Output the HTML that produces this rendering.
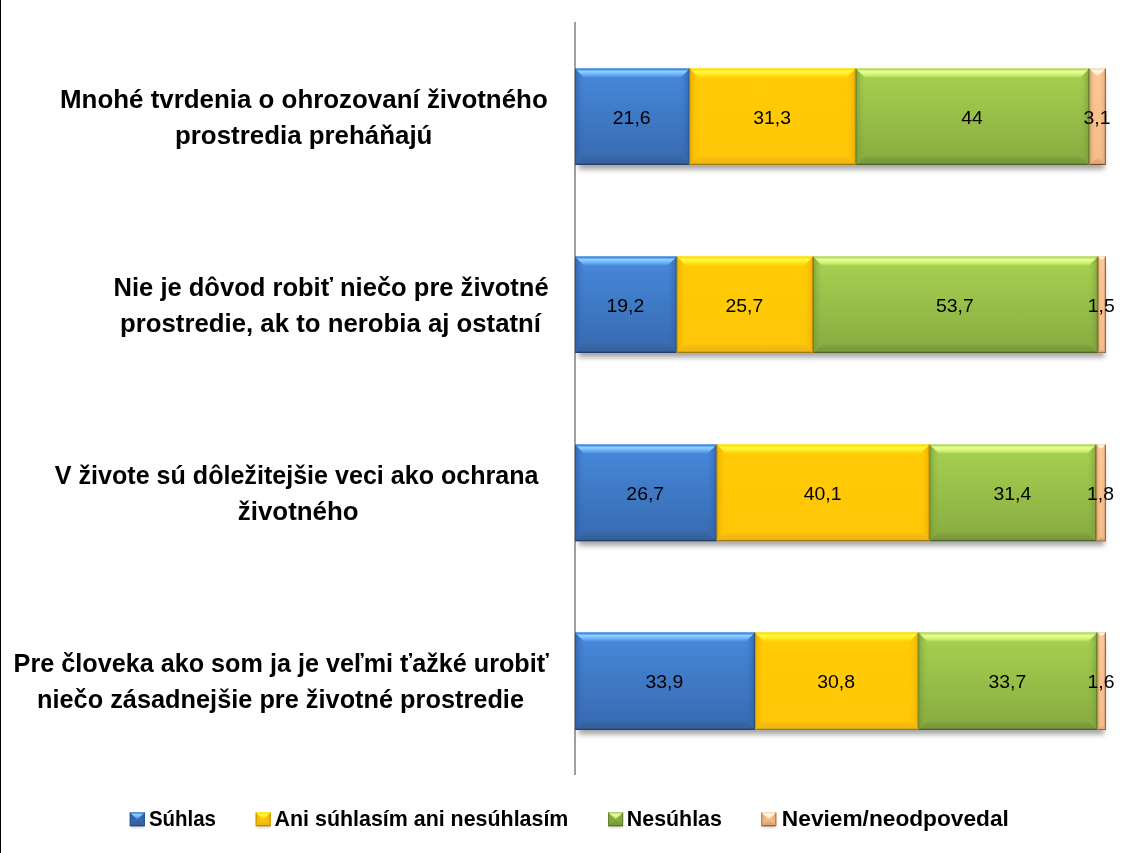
<!DOCTYPE html>
<html lang="sk"><head><meta charset="utf-8"><title>Graf</title>
<style>html,body{margin:0;padding:0;background:#fff}body{width:1128px;height:853px;overflow:hidden}svg{display:block}text{font-family:"Liberation Sans",sans-serif;fill:#000}.l{font-weight:bold;font-size:26px}.k{font-weight:bold;font-size:22.6px}.d{font-size:19px}</style></head><body>
<svg width="1128" height="853" viewBox="0 0 1128 853">
<defs>
<filter id="sh2" x="-30%" y="-30%" width="160%" height="160%"><feGaussianBlur stdDeviation="1"/></filter>
<filter id="sh" x="-5%" y="-50%" width="110%" height="200%"><feGaussianBlur stdDeviation="2.6"/></filter>
<linearGradient id="fb" x1="0" y1="0" x2="0" y2="1"><stop offset="0" stop-color="#4585d6"/><stop offset="0.12" stop-color="#4585d6"/><stop offset="0.95" stop-color="#386bb1"/><stop offset="1" stop-color="#386bb1"/></linearGradient>
<linearGradient id="tb" x1="0" y1="0" x2="0" y2="1"><stop offset="0" stop-color="#3f86e8"/><stop offset="0.09" stop-color="#3f86e8"/><stop offset="0.33" stop-color="#90d6ff"/><stop offset="0.72" stop-color="#62a6f6"/><stop offset="1" stop-color="#4585d6"/></linearGradient>
<linearGradient id="ub" x1="0" y1="0" x2="0" y2="1"><stop offset="0" stop-color="#386bb1"/><stop offset="0.5" stop-color="#37619a"/><stop offset="0.8" stop-color="#37619a"/><stop offset="0.93" stop-color="#1f3f70"/><stop offset="1" stop-color="#1f3f70"/></linearGradient>
<linearGradient id="lb" x1="0" y1="0" x2="1" y2="0"><stop offset="0" stop-color="#2b5fa8" stop-opacity="0.9"/><stop offset="0.22" stop-color="#2b5fa8" stop-opacity="0.5"/><stop offset="0.6" stop-color="#2b5fa8" stop-opacity="0.15"/><stop offset="1" stop-color="#2b5fa8" stop-opacity="0"/></linearGradient>
<linearGradient id="rb" x1="1" y1="0" x2="0" y2="0"><stop offset="0" stop-color="#2b5fa8" stop-opacity="0.9"/><stop offset="0.22" stop-color="#2b5fa8" stop-opacity="0.5"/><stop offset="0.6" stop-color="#2b5fa8" stop-opacity="0.15"/><stop offset="1" stop-color="#2b5fa8" stop-opacity="0"/></linearGradient>
<linearGradient id="fy" x1="0" y1="0" x2="0" y2="1"><stop offset="0" stop-color="#ffcb05"/><stop offset="0.12" stop-color="#ffcb05"/><stop offset="0.95" stop-color="#ffc708"/><stop offset="1" stop-color="#ffc708"/></linearGradient>
<linearGradient id="ty" x1="0" y1="0" x2="0" y2="1"><stop offset="0" stop-color="#ffe000"/><stop offset="0.09" stop-color="#ffe000"/><stop offset="0.33" stop-color="#ffff40"/><stop offset="0.72" stop-color="#ffe21c"/><stop offset="1" stop-color="#ffcb05"/></linearGradient>
<linearGradient id="uy" x1="0" y1="0" x2="0" y2="1"><stop offset="0" stop-color="#ffc708"/><stop offset="0.5" stop-color="#f0b812"/><stop offset="0.8" stop-color="#f0b812"/><stop offset="0.93" stop-color="#a67a0c"/><stop offset="1" stop-color="#a67a0c"/></linearGradient>
<linearGradient id="ly" x1="0" y1="0" x2="1" y2="0"><stop offset="0" stop-color="#e8a900" stop-opacity="0.9"/><stop offset="0.22" stop-color="#e8a900" stop-opacity="0.5"/><stop offset="0.6" stop-color="#e8a900" stop-opacity="0.15"/><stop offset="1" stop-color="#e8a900" stop-opacity="0"/></linearGradient>
<linearGradient id="ry" x1="1" y1="0" x2="0" y2="0"><stop offset="0" stop-color="#e8a900" stop-opacity="0.9"/><stop offset="0.22" stop-color="#e8a900" stop-opacity="0.5"/><stop offset="0.6" stop-color="#e8a900" stop-opacity="0.15"/><stop offset="1" stop-color="#e8a900" stop-opacity="0"/></linearGradient>
<linearGradient id="fg" x1="0" y1="0" x2="0" y2="1"><stop offset="0" stop-color="#a4cd4f"/><stop offset="0.12" stop-color="#a4cd4f"/><stop offset="0.95" stop-color="#89ad41"/><stop offset="1" stop-color="#89ad41"/></linearGradient>
<linearGradient id="tg" x1="0" y1="0" x2="0" y2="1"><stop offset="0" stop-color="#b0de5c"/><stop offset="0.09" stop-color="#b0de5c"/><stop offset="0.33" stop-color="#f0ff98"/><stop offset="0.72" stop-color="#c6f06c"/><stop offset="1" stop-color="#a4cd4f"/></linearGradient>
<linearGradient id="ug" x1="0" y1="0" x2="0" y2="1"><stop offset="0" stop-color="#89ad41"/><stop offset="0.5" stop-color="#7a9a3c"/><stop offset="0.8" stop-color="#7a9a3c"/><stop offset="0.93" stop-color="#4f642a"/><stop offset="1" stop-color="#4f642a"/></linearGradient>
<linearGradient id="lg" x1="0" y1="0" x2="1" y2="0"><stop offset="0" stop-color="#769a38" stop-opacity="0.9"/><stop offset="0.22" stop-color="#769a38" stop-opacity="0.5"/><stop offset="0.6" stop-color="#769a38" stop-opacity="0.15"/><stop offset="1" stop-color="#769a38" stop-opacity="0"/></linearGradient>
<linearGradient id="rg" x1="1" y1="0" x2="0" y2="0"><stop offset="0" stop-color="#769a38" stop-opacity="0.9"/><stop offset="0.22" stop-color="#769a38" stop-opacity="0.5"/><stop offset="0.6" stop-color="#769a38" stop-opacity="0.15"/><stop offset="1" stop-color="#769a38" stop-opacity="0"/></linearGradient>
<linearGradient id="fo" x1="0" y1="0" x2="0" y2="1"><stop offset="0" stop-color="#fdc896"/><stop offset="0.12" stop-color="#fdc896"/><stop offset="0.95" stop-color="#f6be8a"/><stop offset="1" stop-color="#f6be8a"/></linearGradient>
<linearGradient id="to" x1="0" y1="0" x2="0" y2="1"><stop offset="0" stop-color="#ffd9b8"/><stop offset="0.09" stop-color="#ffd9b8"/><stop offset="0.33" stop-color="#fffff0"/><stop offset="0.72" stop-color="#ffe6c4"/><stop offset="1" stop-color="#fdc896"/></linearGradient>
<linearGradient id="uo" x1="0" y1="0" x2="0" y2="1"><stop offset="0" stop-color="#f6be8a"/><stop offset="0.5" stop-color="#e0a878"/><stop offset="0.8" stop-color="#e0a878"/><stop offset="0.93" stop-color="#7a4a22"/><stop offset="1" stop-color="#7a4a22"/></linearGradient>
<linearGradient id="lo" x1="0" y1="0" x2="1" y2="0"><stop offset="0" stop-color="#c98d5a" stop-opacity="0.6"/><stop offset="0.22" stop-color="#c98d5a" stop-opacity="0.3"/><stop offset="0.6" stop-color="#c98d5a" stop-opacity="0.06"/><stop offset="1" stop-color="#c98d5a" stop-opacity="0"/></linearGradient>
<linearGradient id="ro" x1="1" y1="0" x2="0" y2="0"><stop offset="0" stop-color="#c98d5a" stop-opacity="0.6"/><stop offset="0.22" stop-color="#c98d5a" stop-opacity="0.3"/><stop offset="0.6" stop-color="#c98d5a" stop-opacity="0.06"/><stop offset="1" stop-color="#c98d5a" stop-opacity="0"/></linearGradient>
</defs>
<rect x="0" y="0" width="1128" height="853" fill="#fff"/>
<rect x="0" y="0" width="1" height="853" fill="#000"/>
<rect x="574" y="22" width="2" height="753" fill="#a0a0a0"/>
<rect x="578.5" y="76.5" width="525.85" height="93" fill="#000" fill-opacity="0.34" filter="url(#sh)"/>
<rect x="575" y="68.5" width="114.66" height="96.5" fill="url(#fb)"/>
<polygon points="575,68.5 584.5,78 584.5,155.5 575,165" fill="url(#lb)"/>
<polygon points="689.66,68.5 680.16,78 680.16,155.5 689.66,165" fill="url(#rb)"/>
<polygon points="575,68.5 689.66,68.5 680.16,78 584.5,78" fill="url(#tb)"/>
<polygon points="575,165 689.66,165 680.16,155.5 584.5,155.5" fill="url(#ub)"/>
<rect x="575" y="68.5" width="0.8" height="96.5" fill="#1f3f70" fill-opacity="0.5"/><rect x="688.66" y="68.5" width="1" height="96.5" fill="#1f3f70" fill-opacity="0.8"/>
<rect x="689.66" y="68.5" width="166.16" height="96.5" fill="url(#fy)"/>
<polygon points="689.66,68.5 699.16,78 699.16,155.5 689.66,165" fill="url(#ly)"/>
<polygon points="855.82,68.5 846.32,78 846.32,155.5 855.82,165" fill="url(#ry)"/>
<polygon points="689.66,68.5 855.82,68.5 846.32,78 699.16,78" fill="url(#ty)"/>
<polygon points="689.66,165 855.82,165 846.32,155.5 699.16,155.5" fill="url(#uy)"/>
<rect x="689.66" y="68.5" width="0.8" height="96.5" fill="#a67a0c" fill-opacity="0.5"/><rect x="854.82" y="68.5" width="1" height="96.5" fill="#a67a0c" fill-opacity="0.8"/>
<rect x="855.82" y="68.5" width="233.57" height="96.5" fill="url(#fg)"/>
<polygon points="855.82,68.5 865.32,78 865.32,155.5 855.82,165" fill="url(#lg)"/>
<polygon points="1089.39,68.5 1079.89,78 1079.89,155.5 1089.39,165" fill="url(#rg)"/>
<polygon points="855.82,68.5 1089.39,68.5 1079.89,78 865.32,78" fill="url(#tg)"/>
<polygon points="855.82,165 1089.39,165 1079.89,155.5 865.32,155.5" fill="url(#ug)"/>
<rect x="855.82" y="68.5" width="0.8" height="96.5" fill="#4f642a" fill-opacity="0.5"/><rect x="1088.39" y="68.5" width="1" height="96.5" fill="#4f642a" fill-opacity="0.8"/>
<rect x="1089.39" y="68.5" width="16.46" height="96.5" fill="url(#fo)"/>
<polygon points="1089.39,68.5 1097.62,76.73 1097.62,156.77 1089.39,165" fill="url(#lo)"/>
<polygon points="1105.85,68.5 1097.62,76.73 1097.62,156.77 1105.85,165" fill="url(#ro)"/>
<polygon points="1089.39,68.5 1105.85,68.5 1097.62,76.73 1097.62,76.73" fill="url(#to)"/>
<polygon points="1089.39,165 1105.85,165 1097.62,156.77 1097.62,156.77" fill="url(#uo)"/>
<rect x="1089.39" y="68.5" width="0.8" height="96.5" fill="#7a4a22" fill-opacity="0.5"/><rect x="1104.85" y="68.5" width="1" height="96.5" fill="#7a4a22" fill-opacity="0.8"/>
<rect x="578.5" y="264.5" width="525.85" height="93" fill="#000" fill-opacity="0.34" filter="url(#sh)"/>
<rect x="575" y="256.5" width="101.82" height="96.5" fill="url(#fb)"/>
<polygon points="575,256.5 584.5,266 584.5,343.5 575,353" fill="url(#lb)"/>
<polygon points="676.82,256.5 667.32,266 667.32,343.5 676.82,353" fill="url(#rb)"/>
<polygon points="575,256.5 676.82,256.5 667.32,266 584.5,266" fill="url(#tb)"/>
<polygon points="575,353 676.82,353 667.32,343.5 584.5,343.5" fill="url(#ub)"/>
<rect x="575" y="256.5" width="0.8" height="96.5" fill="#1f3f70" fill-opacity="0.5"/><rect x="675.82" y="256.5" width="1" height="96.5" fill="#1f3f70" fill-opacity="0.8"/>
<rect x="676.82" y="256.5" width="136.29" height="96.5" fill="url(#fy)"/>
<polygon points="676.82,256.5 686.32,266 686.32,343.5 676.82,353" fill="url(#ly)"/>
<polygon points="813.11,256.5 803.61,266 803.61,343.5 813.11,353" fill="url(#ry)"/>
<polygon points="676.82,256.5 813.11,256.5 803.61,266 686.32,266" fill="url(#ty)"/>
<polygon points="676.82,353 813.11,353 803.61,343.5 686.32,343.5" fill="url(#uy)"/>
<rect x="676.82" y="256.5" width="0.8" height="96.5" fill="#a67a0c" fill-opacity="0.5"/><rect x="812.11" y="256.5" width="1" height="96.5" fill="#a67a0c" fill-opacity="0.8"/>
<rect x="813.11" y="256.5" width="284.78" height="96.5" fill="url(#fg)"/>
<polygon points="813.11,256.5 822.61,266 822.61,343.5 813.11,353" fill="url(#lg)"/>
<polygon points="1097.9,256.5 1088.4,266 1088.4,343.5 1097.9,353" fill="url(#rg)"/>
<polygon points="813.11,256.5 1097.9,256.5 1088.4,266 822.61,266" fill="url(#tg)"/>
<polygon points="813.11,353 1097.9,353 1088.4,343.5 822.61,343.5" fill="url(#ug)"/>
<rect x="813.11" y="256.5" width="0.8" height="96.5" fill="#4f642a" fill-opacity="0.5"/><rect x="1096.9" y="256.5" width="1" height="96.5" fill="#4f642a" fill-opacity="0.8"/>
<rect x="1097.9" y="256.5" width="7.95" height="96.5" fill="url(#fo)"/>
<polygon points="1097.9,256.5 1101.87,260.48 1101.87,349.02 1097.9,353" fill="url(#lo)"/>
<polygon points="1105.85,256.5 1101.87,260.48 1101.87,349.02 1105.85,353" fill="url(#ro)"/>
<polygon points="1097.9,256.5 1105.85,256.5 1101.87,260.48 1101.87,260.48" fill="url(#to)"/>
<polygon points="1097.9,353 1105.85,353 1101.87,349.02 1101.87,349.02" fill="url(#uo)"/>
<rect x="1097.9" y="256.5" width="0.8" height="96.5" fill="#7a4a22" fill-opacity="0.5"/><rect x="1104.85" y="256.5" width="1" height="96.5" fill="#7a4a22" fill-opacity="0.8"/>
<rect x="578.5" y="452.5" width="525.85" height="93.2" fill="#000" fill-opacity="0.34" filter="url(#sh)"/>
<rect x="575" y="444.5" width="141.74" height="96.7" fill="url(#fb)"/>
<polygon points="575,444.5 584.5,454 584.5,531.7 575,541.2" fill="url(#lb)"/>
<polygon points="716.74,444.5 707.24,454 707.24,531.7 716.74,541.2" fill="url(#rb)"/>
<polygon points="575,444.5 716.74,444.5 707.24,454 584.5,454" fill="url(#tb)"/>
<polygon points="575,541.2 716.74,541.2 707.24,531.7 584.5,531.7" fill="url(#ub)"/>
<rect x="575" y="444.5" width="0.8" height="96.7" fill="#1f3f70" fill-opacity="0.5"/><rect x="715.74" y="444.5" width="1" height="96.7" fill="#1f3f70" fill-opacity="0.8"/>
<rect x="716.74" y="444.5" width="212.87" height="96.7" fill="url(#fy)"/>
<polygon points="716.74,444.5 726.24,454 726.24,531.7 716.74,541.2" fill="url(#ly)"/>
<polygon points="929.61,444.5 920.11,454 920.11,531.7 929.61,541.2" fill="url(#ry)"/>
<polygon points="716.74,444.5 929.61,444.5 920.11,454 726.24,454" fill="url(#ty)"/>
<polygon points="716.74,541.2 929.61,541.2 920.11,531.7 726.24,531.7" fill="url(#uy)"/>
<rect x="716.74" y="444.5" width="0.8" height="96.7" fill="#a67a0c" fill-opacity="0.5"/><rect x="928.61" y="444.5" width="1" height="96.7" fill="#a67a0c" fill-opacity="0.8"/>
<rect x="929.61" y="444.5" width="166.69" height="96.7" fill="url(#fg)"/>
<polygon points="929.61,444.5 939.11,454 939.11,531.7 929.61,541.2" fill="url(#lg)"/>
<polygon points="1096.29,444.5 1086.79,454 1086.79,531.7 1096.29,541.2" fill="url(#rg)"/>
<polygon points="929.61,444.5 1096.29,444.5 1086.79,454 939.11,454" fill="url(#tg)"/>
<polygon points="929.61,541.2 1096.29,541.2 1086.79,531.7 939.11,531.7" fill="url(#ug)"/>
<rect x="929.61" y="444.5" width="0.8" height="96.7" fill="#4f642a" fill-opacity="0.5"/><rect x="1095.29" y="444.5" width="1" height="96.7" fill="#4f642a" fill-opacity="0.8"/>
<rect x="1096.29" y="444.5" width="9.56" height="96.7" fill="url(#fo)"/>
<polygon points="1096.29,444.5 1101.07,449.28 1101.07,536.42 1096.29,541.2" fill="url(#lo)"/>
<polygon points="1105.85,444.5 1101.07,449.28 1101.07,536.42 1105.85,541.2" fill="url(#ro)"/>
<polygon points="1096.29,444.5 1105.85,444.5 1101.07,449.28 1101.07,449.28" fill="url(#to)"/>
<polygon points="1096.29,541.2 1105.85,541.2 1101.07,536.42 1101.07,536.42" fill="url(#uo)"/>
<rect x="1096.29" y="444.5" width="0.8" height="96.7" fill="#7a4a22" fill-opacity="0.5"/><rect x="1104.85" y="444.5" width="1" height="96.7" fill="#7a4a22" fill-opacity="0.8"/>
<rect x="578.5" y="640.5" width="525.85" height="94" fill="#000" fill-opacity="0.34" filter="url(#sh)"/>
<rect x="575" y="632.5" width="179.96" height="97.5" fill="url(#fb)"/>
<polygon points="575,632.5 584.5,642 584.5,720.5 575,730" fill="url(#lb)"/>
<polygon points="754.96,632.5 745.46,642 745.46,720.5 754.96,730" fill="url(#rb)"/>
<polygon points="575,632.5 754.96,632.5 745.46,642 584.5,642" fill="url(#tb)"/>
<polygon points="575,730 754.96,730 745.46,720.5 584.5,720.5" fill="url(#ub)"/>
<rect x="575" y="632.5" width="0.8" height="97.5" fill="#1f3f70" fill-opacity="0.5"/><rect x="753.96" y="632.5" width="1" height="97.5" fill="#1f3f70" fill-opacity="0.8"/>
<rect x="754.96" y="632.5" width="163.5" height="97.5" fill="url(#fy)"/>
<polygon points="754.96,632.5 764.46,642 764.46,720.5 754.96,730" fill="url(#ly)"/>
<polygon points="918.46,632.5 908.96,642 908.96,720.5 918.46,730" fill="url(#ry)"/>
<polygon points="754.96,632.5 918.46,632.5 908.96,642 764.46,642" fill="url(#ty)"/>
<polygon points="754.96,730 918.46,730 908.96,720.5 764.46,720.5" fill="url(#uy)"/>
<rect x="754.96" y="632.5" width="0.8" height="97.5" fill="#a67a0c" fill-opacity="0.5"/><rect x="917.46" y="632.5" width="1" height="97.5" fill="#a67a0c" fill-opacity="0.8"/>
<rect x="918.46" y="632.5" width="178.9" height="97.5" fill="url(#fg)"/>
<polygon points="918.46,632.5 927.96,642 927.96,720.5 918.46,730" fill="url(#lg)"/>
<polygon points="1097.36,632.5 1087.86,642 1087.86,720.5 1097.36,730" fill="url(#rg)"/>
<polygon points="918.46,632.5 1097.36,632.5 1087.86,642 927.96,642" fill="url(#tg)"/>
<polygon points="918.46,730 1097.36,730 1087.86,720.5 927.96,720.5" fill="url(#ug)"/>
<rect x="918.46" y="632.5" width="0.8" height="97.5" fill="#4f642a" fill-opacity="0.5"/><rect x="1096.36" y="632.5" width="1" height="97.5" fill="#4f642a" fill-opacity="0.8"/>
<rect x="1097.36" y="632.5" width="8.49" height="97.5" fill="url(#fo)"/>
<polygon points="1097.36,632.5 1101.6,636.75 1101.6,725.75 1097.36,730" fill="url(#lo)"/>
<polygon points="1105.85,632.5 1101.6,636.75 1101.6,725.75 1105.85,730" fill="url(#ro)"/>
<polygon points="1097.36,632.5 1105.85,632.5 1101.6,636.75 1101.6,636.75" fill="url(#to)"/>
<polygon points="1097.36,730 1105.85,730 1101.6,725.75 1101.6,725.75" fill="url(#uo)"/>
<rect x="1097.36" y="632.5" width="0.8" height="97.5" fill="#7a4a22" fill-opacity="0.5"/><rect x="1104.85" y="632.5" width="1" height="97.5" fill="#7a4a22" fill-opacity="0.8"/>
<text id="d0" class="d" x="631.73" y="123.8" textLength="37.78" lengthAdjust="spacingAndGlyphs" text-anchor="middle">21,6</text>
<text id="d1" class="d" x="772.14" y="123.8" textLength="37.78" lengthAdjust="spacingAndGlyphs" text-anchor="middle">31,3</text>
<text id="d2" class="d" x="972.01" y="123.8" textLength="21.63" lengthAdjust="spacingAndGlyphs" text-anchor="middle">44</text>
<text id="d3" class="d" x="1097.02" y="123.8" textLength="26.96" lengthAdjust="spacingAndGlyphs" text-anchor="middle">3,1</text>
<text id="d4" class="d" x="625.31" y="311.8" textLength="37.78" lengthAdjust="spacingAndGlyphs" text-anchor="middle">19,2</text>
<text id="d5" class="d" x="744.37" y="311.8" textLength="37.78" lengthAdjust="spacingAndGlyphs" text-anchor="middle">25,7</text>
<text id="d6" class="d" x="954.9" y="311.8" textLength="37.78" lengthAdjust="spacingAndGlyphs" text-anchor="middle">53,7</text>
<text id="d7" class="d" x="1101.27" y="311.8" textLength="26.96" lengthAdjust="spacingAndGlyphs" text-anchor="middle">1,5</text>
<text id="d8" class="d" x="645.27" y="499.8" textLength="37.78" lengthAdjust="spacingAndGlyphs" text-anchor="middle">26,7</text>
<text id="d9" class="d" x="822.57" y="499.8" textLength="37.78" lengthAdjust="spacingAndGlyphs" text-anchor="middle">40,1</text>
<text id="d10" class="d" x="1012.35" y="499.8" textLength="37.78" lengthAdjust="spacingAndGlyphs" text-anchor="middle">31,4</text>
<text id="d11" class="d" x="1100.47" y="499.8" textLength="26.96" lengthAdjust="spacingAndGlyphs" text-anchor="middle">1,8</text>
<text id="d12" class="d" x="664.38" y="687.8" textLength="37.78" lengthAdjust="spacingAndGlyphs" text-anchor="middle">33,9</text>
<text id="d13" class="d" x="836.11" y="687.8" textLength="37.78" lengthAdjust="spacingAndGlyphs" text-anchor="middle">30,8</text>
<text id="d14" class="d" x="1007.31" y="687.8" textLength="37.78" lengthAdjust="spacingAndGlyphs" text-anchor="middle">33,7</text>
<text id="d15" class="d" x="1101" y="687.8" textLength="26.96" lengthAdjust="spacingAndGlyphs" text-anchor="middle">1,6</text>
<text id="c0" class="l" x="60.02" y="107.9" textLength="487.7" lengthAdjust="spacingAndGlyphs">Mnohé tvrdenia o ohrozovaní životného</text>
<text id="c1" class="l" x="174.99" y="143.8" textLength="257.41" lengthAdjust="spacingAndGlyphs">prostredia preháňajú</text>
<text id="c2" class="l" x="113.56" y="295.9" textLength="435.04" lengthAdjust="spacingAndGlyphs">Nie je dôvod robiť niečo pre životné</text>
<text id="c3" class="l" x="120" y="331.8" textLength="421.02" lengthAdjust="spacingAndGlyphs">prostredie, ak to nerobia aj ostatní</text>
<text id="c4" class="l" x="54.81" y="483.9" textLength="483.78" lengthAdjust="spacingAndGlyphs">V živote sú dôležitejšie veci ako ochrana</text>
<text id="c5" class="l" x="237.85" y="519.8" textLength="120.81" lengthAdjust="spacingAndGlyphs">životného</text>
<text id="c6" class="l" x="13.6" y="671.9" textLength="535.24" lengthAdjust="spacingAndGlyphs">Pre človeka ako som ja je veľmi ťažké urobiť</text>
<text id="c7" class="l" x="37" y="707.8" textLength="486.98" lengthAdjust="spacingAndGlyphs">niečo zásadnejšie pre životné prostredie</text>
<rect x="130.8" y="814.9" width="13" height="12.8" fill="#000" fill-opacity="0.18" filter="url(#sh2)"/>
<rect x="129.8" y="812.4" width="15" height="13.8" fill="#386bb1"/>
<polygon points="129.8,812.4 137.3,819.3 129.8,826.2" fill="url(#lb)"/>
<polygon points="144.8,812.4 137.3,819.3 144.8,826.2" fill="url(#rb)"/>
<polygon points="129.8,826.2 137.3,819.3 144.8,826.2" fill="url(#ub)"/>
<polygon points="129.8,812.4 144.8,812.4 137.3,819.3" fill="url(#tb)"/>
<rect x="129.8" y="812.4" width="0.9" height="13.8" fill="#1f3f70" fill-opacity="0.55"/><rect x="143.9" y="812.4" width="0.9" height="13.8" fill="#1f3f70" fill-opacity="0.6"/>
<text id="k0" class="k" x="148.9" y="825.6" textLength="67.12" lengthAdjust="spacingAndGlyphs">Súhlas</text>
<rect x="256.7" y="814.9" width="13" height="12.8" fill="#000" fill-opacity="0.18" filter="url(#sh2)"/>
<rect x="255.7" y="812.4" width="15" height="13.8" fill="#ffc708"/>
<polygon points="255.7,812.4 263.2,819.3 255.7,826.2" fill="url(#ly)"/>
<polygon points="270.7,812.4 263.2,819.3 270.7,826.2" fill="url(#ry)"/>
<polygon points="255.7,826.2 263.2,819.3 270.7,826.2" fill="url(#uy)"/>
<polygon points="255.7,812.4 270.7,812.4 263.2,819.3" fill="url(#ty)"/>
<rect x="255.7" y="812.4" width="0.9" height="13.8" fill="#a67a0c" fill-opacity="0.55"/><rect x="269.8" y="812.4" width="0.9" height="13.8" fill="#a67a0c" fill-opacity="0.6"/>
<text id="k1" class="k" x="274.55" y="825.6" textLength="293.84" lengthAdjust="spacingAndGlyphs">Ani súhlasím ani nesúhlasím</text>
<rect x="609.1" y="814.9" width="13" height="12.8" fill="#000" fill-opacity="0.18" filter="url(#sh2)"/>
<rect x="608.1" y="812.4" width="15" height="13.8" fill="#89ad41"/>
<polygon points="608.1,812.4 615.6,819.3 608.1,826.2" fill="url(#lg)"/>
<polygon points="623.1,812.4 615.6,819.3 623.1,826.2" fill="url(#rg)"/>
<polygon points="608.1,826.2 615.6,819.3 623.1,826.2" fill="url(#ug)"/>
<polygon points="608.1,812.4 623.1,812.4 615.6,819.3" fill="url(#tg)"/>
<rect x="608.1" y="812.4" width="0.9" height="13.8" fill="#4f642a" fill-opacity="0.55"/><rect x="622.2" y="812.4" width="0.9" height="13.8" fill="#4f642a" fill-opacity="0.6"/>
<text id="k2" class="k" x="626.85" y="825.6" textLength="95.03" lengthAdjust="spacingAndGlyphs">Nesúhlas</text>
<rect x="762.3" y="814.9" width="13" height="12.8" fill="#000" fill-opacity="0.18" filter="url(#sh2)"/>
<rect x="761.3" y="812.4" width="15" height="13.8" fill="#f6be8a"/>
<polygon points="761.3,812.4 768.8,819.3 761.3,826.2" fill="url(#lo)"/>
<polygon points="776.3,812.4 768.8,819.3 776.3,826.2" fill="url(#ro)"/>
<polygon points="761.3,826.2 768.8,819.3 776.3,826.2" fill="url(#uo)"/>
<polygon points="761.3,812.4 776.3,812.4 768.8,819.3" fill="url(#to)"/>
<rect x="761.3" y="812.4" width="0.9" height="13.8" fill="#7a4a22" fill-opacity="0.55"/><rect x="775.4" y="812.4" width="0.9" height="13.8" fill="#7a4a22" fill-opacity="0.6"/>
<text id="k3" class="k" x="781.89" y="825.6" textLength="227.01" lengthAdjust="spacingAndGlyphs">Neviem/neodpovedal</text>
</svg></body></html>
